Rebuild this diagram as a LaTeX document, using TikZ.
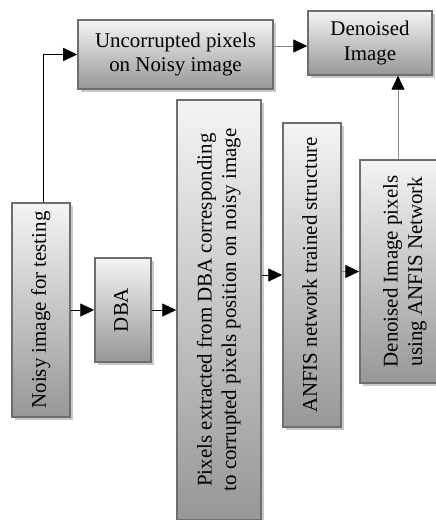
\documentclass[tikz,border=0pt]{standalone}
\usepackage{fontspec}
\setmainfont{Liberation Serif}
\usepackage{graphicx}
\usepackage{tikz}
\usetikzlibrary{arrows.meta, shadows}
\definecolor{BoxEdge}{HTML}{6E6E6E}
\definecolor{BoxTop}{HTML}{F4F4F4}
\definecolor{BoxBottom}{HTML}{979797}
\definecolor{ShadowGray}{HTML}{C8C8C8}
\definecolor{LineGray}{HTML}{8A8A8A}
\tikzset{
  flowbox/.style={rectangle, draw=BoxEdge, line width=1.5bp, top color=BoxTop, bottom color=BoxBottom, inner sep=2bp, align=center, font=\fontsize{21}{24.5}\selectfont, general shadow={fill=ShadowGray, shadow xshift=3bp, shadow yshift=-3bp}},
  arrow/.style={-{Triangle[length=14bp, width=13bp]}, line width=0.9bp, black},
  grayarrow/.style={-{Triangle[length=14bp, width=13bp, color=black]}, line width=0.9bp, LineGray}
}
\newcommand{\uptext}[1]{\rotatebox{90}{\begin{tabular}{@{}c@{}}#1\end{tabular}}}

\begin{document}
\begin{tikzpicture}[x=1bp, y=-1bp]
  \useasboundingbox (0,0) rectangle (436,520);

  % top row
  \node[flowbox, minimum width=195bp, minimum height=69bp] (unc) at (175.5,54.5) {Uncorrupted pixels\\on Noisy image};
  \node[flowbox, minimum width=124bp, minimum height=64bp] (den) at (370,43) {Denoised\\Image};

  % upright boxes
  \node[flowbox, minimum width=58bp, minimum height=214bp] (noisy) at (41,310) {\uptext{Noisy image for testing}};
  \node[flowbox, minimum width=56bp, minimum height=104bp] (dba) at (123,310) {\uptext{DBA}};
  \node[flowbox, minimum width=84bp, minimum height=420bp] (pix) at (219,310) {\uptext{Pixels extracted from DBA corresponding\\to corrupted pixels position on noisy image}};
  \node[flowbox, minimum width=58bp, minimum height=304bp] (anfis) at (312,275) {\uptext{ANFIS network trained structure}};
  \node[flowbox, minimum width=90bp, minimum height=223bp] (dpix) at (405,271.5) {\uptext{Denoised Image pixels\\using ANFIS Network}};

  \draw[arrow] ([xshift=2bp]noisy.north) |- (unc.west);
  \draw[grayarrow] ([yshift=-3bp]unc.east |- den.west) -- ([yshift=-3bp]den.west);
  \draw[arrow] (noisy) -- (dba);
  \draw[arrow] (dba) -- (pix);
  \draw[arrow] (pix.east |- anfis) -- (anfis);
  \draw[grayarrow] (anfis.east |- dpix) -- (dpix);
  \draw[grayarrow] ([xshift=-7bp]dpix.north) -- ([xshift=-7bp]dpix.north |- den.south);
\end{tikzpicture}
\end{document}
